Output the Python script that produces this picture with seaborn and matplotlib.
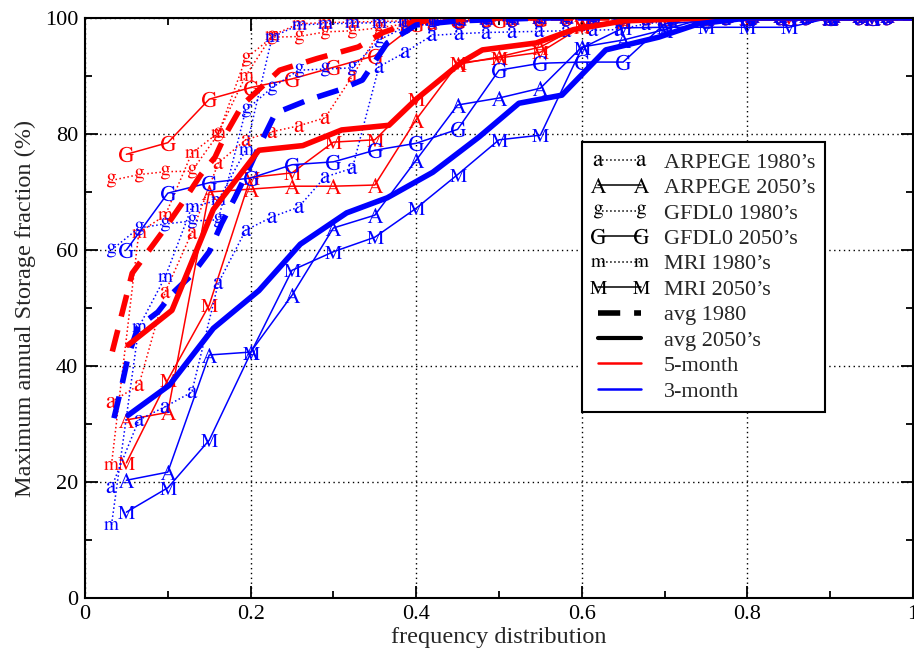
import numpy as np
import pandas as pd
import seaborn as sns
import matplotlib
matplotlib.use("Agg")
import matplotlib.pyplot as plt
from matplotlib.lines import Line2D
from matplotlib.ticker import MultipleLocator, FuncFormatter

# ---------------- data ----------------
X_1980 = [0.032, 0.065, 0.097, 0.129, 0.161, 0.194, 0.226, 0.258, 0.290, 0.323,
          0.355, 0.387, 0.419, 0.452, 0.484, 0.516, 0.548, 0.581, 0.613, 0.645,
          0.677, 0.710, 0.742, 0.774, 0.806, 0.839, 0.871, 0.903, 0.935, 0.968]
X_2050 = [0.05, 0.10, 0.15, 0.20, 0.25, 0.30, 0.35, 0.40, 0.45, 0.50,
          0.55, 0.60, 0.65, 0.70, 0.75, 0.80, 0.85, 0.90, 0.95]

# 5-month (red)
red_a_1980 = [33.8, 36.7, 52.8, 63.0, 75.0, 79.0, 80.4, 81.4, 82.8, 90.0,
              97.5, 98.5, 99.0, 99.3, 99.5, 99.6, 99.7, 99.8, 99.8, 99.9,
              99.9, 100, 100, 100, 100, 100, 100, 100, 100, 100]
red_g_1980 = [72.0, 73.0, 73.5, 73.6, 80.0, 93.0, 96.7, 96.8, 97.6, 97.8,
              98.3, 99.0, 99.3, 99.5, 99.6, 99.7, 99.8, 99.8, 99.9, 100,
              100, 100, 100, 100, 100, 100, 100, 100, 100, 100]
red_m_1980 = [23.0, 63.0, 66.0, 76.7, 80.2, 90.0, 97.0, 99.0, 99.2, 99.3,
              99.4, 99.5, 99.6, 99.7, 99.8, 99.8, 99.9, 100, 100, 100,
              100, 100, 100, 100, 100, 100, 100, 100, 100, 100]
red_A_2050 = [30.7, 32.0, 70.0, 70.5, 71.0, 71.0, 71.2, 82.5, 92.0, 93.3,
              95.0, 98.8, 99.5, 100, 100, 100, 100, 100, 100]
red_G_2050 = [76.5, 78.5, 86.0, 88.0, 89.5, 91.5, 93.5, 99.0, 99.5, 99.7,
              99.8, 100, 100, 100, 100, 100, 100, 100, 100]
red_M_2050 = [23.3, 37.6, 50.5, 72.5, 73.3, 78.6, 79.0, 86.0, 92.2, 93.1,
              94.1, 98.5, 99.5, 100, 100, 100, 100, 100, 100]

# 3-month (blue)
blue_a_1980 = [19.1, 30.7, 33.0, 35.5, 54.3, 63.4, 65.7, 67.4, 72.6, 74.1,
               91.6, 94.1, 97.0, 97.3, 97.5, 97.6, 97.7, 97.8, 97.9, 98.0,
               99.0, 99.5, 99.7, 99.8, 99.9, 100, 100, 100, 100, 100]
blue_g_1980 = [60.0, 63.8, 64.5, 65.0, 65.2, 84.1, 88.0, 91.0, 91.2, 91.4,
               96.2, 98.5, 99.0, 99.3, 99.5, 99.6, 99.7, 99.8, 99.8, 99.9,
               100, 100, 100, 100, 100, 100, 100, 100, 100, 100]
blue_m_1980 = [12.6, 46.7, 55.4, 67.4, 68.6, 77.2, 96.7, 98.8, 99.0, 99.1,
               99.2, 99.3, 99.4, 99.5, 99.6, 99.7, 99.8, 99.8, 99.9, 99.9,
               100, 100, 100, 100, 100, 100, 100, 100, 100, 100]
blue_A_2050 = [20.3, 21.7, 41.9, 42.4, 52.2, 63.8, 66.0, 75.5, 85.0, 86.2,
               87.9, 95.0, 96.2, 98.0, 100, 100, 100, 100, 100]
blue_G_2050 = [60.0, 69.8, 71.6, 72.4, 74.7, 75.2, 77.2, 78.4, 80.8, 91.0,
               92.2, 92.4, 92.4, 99.0, 99.5, 100, 100, 100, 100]
blue_M_2050 = [14.8, 19.0, 27.2, 42.2, 56.5, 59.7, 62.2, 67.2, 73.0, 79.0,
               79.8, 94.8, 98.3, 98.4, 98.4, 98.4, 98.4, 100, 100]

# averages
red_avg1980_x = [0.033, 0.057, 0.093, 0.117, 0.14, 0.157, 0.17, 0.19, 0.235, 0.28, 0.33, 0.36, 0.40, 0.50, 1.0]
red_avg1980_y = [42.5, 56.0, 63.0, 68.0, 73.0, 76.0, 80.0, 85.0, 91.0, 93.0, 95.0, 97.5, 99.5, 100, 100]
blue_avg1980_x = [0.035, 0.045, 0.052, 0.064, 0.088, 0.106, 0.129, 0.15, 0.165, 0.181, 0.196, 0.21,
                  0.23, 0.27, 0.307, 0.335, 0.365, 0.40, 0.45, 0.55, 1.0]
blue_avg1980_y = [31.0, 37.0, 41.6, 46.7, 49.3, 52.6, 55.7, 59.7, 64.6, 69.0, 73.4, 77.8,
                  83.6, 85.9, 87.6, 89.3, 95.7, 98.8, 99.5, 100, 100]
red_avg2050_x = [0.052, 0.105, 0.155, 0.21, 0.263, 0.31, 0.367, 0.40, 0.455, 0.48, 0.545, 0.59, 0.65, 0.75, 1.0]
red_avg2050_y = [43.6, 49.6, 67.0, 77.2, 78.0, 80.7, 81.5, 86.0, 92.4, 94.5, 95.7, 98.0, 99.5, 100, 100]
blue_avg2050_x = [0.052, 0.102, 0.155, 0.21, 0.26, 0.316, 0.365, 0.42, 0.476, 0.524, 0.576, 0.629,
                  0.693, 0.741, 0.80, 1.0]
blue_avg2050_y = [31.5, 36.7, 46.5, 53.0, 61.0, 66.4, 69.0, 73.4, 79.5, 85.3, 86.7, 94.5,
                  96.7, 99.0, 100, 100]

# ---------------- style ----------------
sns.set_style("ticks")
plt.rcParams['font.family'] = ['Liberation Serif', 'DejaVu Serif']
plt.rcParams['mathtext.fontset'] = 'stix'

RED = '#ff0000'
BLUE = '#0000ff'

fig = plt.figure(figsize=(9.14, 6.51), dpi=100)
ax = fig.add_axes([85 / 914, 53 / 651, 828 / 914, 580 / 651])

letter_size = {'a': 8.0, 'g': 10.0, 'm': 10.5, 'A': 11.0, 'G': 11.0, 'M': 12.0}

def draw(x, y, color, letter, ls):
    df = pd.DataFrame({'x': x, 'y': y})
    sns.lineplot(data=df, x='x', y='y', ax=ax, color=color, linestyle=ls,
                 linewidth=1.1, marker=r'$\mathrm{%s}$' % letter,
                 markersize=letter_size[letter], markeredgewidth=0,
                 markerfacecolor=color, markeredgecolor=color, sort=False,
                 estimator=None)

series = [
    (X_1980, red_a_1980, RED, 'a', ':'), (X_1980, red_g_1980, RED, 'g', ':'),
    (X_1980, red_m_1980, RED, 'm', ':'), (X_2050, red_A_2050, RED, 'A', '-'),
    (X_2050, red_G_2050, RED, 'G', '-'), (X_2050, red_M_2050, RED, 'M', '-'),
    (X_1980, blue_a_1980, BLUE, 'a', ':'), (X_1980, blue_g_1980, BLUE, 'g', ':'),
    (X_1980, blue_m_1980, BLUE, 'm', ':'), (X_2050, blue_A_2050, BLUE, 'A', '-'),
    (X_2050, blue_G_2050, BLUE, 'G', '-'), (X_2050, blue_M_2050, BLUE, 'M', '-'),
]
for x, y, c, l, ls in series:
    draw(x, y, c, l, ls)

for x, y, c, ls in [(red_avg1980_x, red_avg1980_y, RED, (0, (4, 2.5))),
                    (blue_avg1980_x, blue_avg1980_y, BLUE, (0, (4, 2.5))),
                    (red_avg2050_x, red_avg2050_y, RED, '-'),
                    (blue_avg2050_x, blue_avg2050_y, BLUE, '-')]:
    df = pd.DataFrame({'x': x, 'y': y})
    sns.lineplot(data=df, x='x', y='y', ax=ax, color=c, linestyle=ls,
                 linewidth=4.0, sort=False, estimator=None)

# ---------------- axes ----------------
ax.set_xlim(0, 1)
ax.set_ylim(0, 100)
ax.xaxis.set_major_locator(MultipleLocator(0.2))
ax.xaxis.set_minor_locator(MultipleLocator(0.1))
ax.yaxis.set_major_locator(MultipleLocator(20))
ax.yaxis.set_minor_locator(MultipleLocator(10))
ax.xaxis.set_major_formatter(FuncFormatter(lambda v, p: '%g' % round(v, 2)))
ax.yaxis.set_major_formatter(FuncFormatter(lambda v, p: '%g' % round(v, 2)))
ax.tick_params(which='both', direction='in', top=True, right=True, colors='black',
               labelsize=16, width=1.3)
ax.tick_params(which='major', length=9, pad=5)
ax.tick_params(which='minor', length=5)
ax.grid(True, which='major', linestyle=(0, (1, 2.5)), color='black', linewidth=1.0)
for s in ax.spines.values():
    s.set_visible(True)
    s.set_color('black')
    s.set_linewidth(1.5)
ax.set_xlabel('frequency distribution', fontsize=17.5, labelpad=2)
ax.set_ylabel('Maximum annual Storage fraction (%)', fontsize=17.5, labelpad=6)

# ---------------- legend ----------------
def mk(letter, ls):
    return Line2D([], [], color='black', linestyle=ls, linewidth=1.1,
                  marker=r'$\mathrm{%s}$' % letter, markersize=letter_size[letter],
                  markeredgewidth=0)

handles = [mk('a', ':'), mk('A', '-'), mk('g', ':'), mk('G', '-'), mk('m', ':'), mk('M', '-'),
           Line2D([], [], color='black', linestyle=(0, (4, 2.5)), linewidth=4),
           Line2D([], [], color='black', linestyle='-', linewidth=3),
           Line2D([], [], color=RED, linestyle='-', linewidth=1.8),
           Line2D([], [], color=BLUE, linestyle='-', linewidth=1.8)]
labels = ["ARPEGE 1980\u2019s", "ARPEGE 2050\u2019s", "GFDL0 1980\u2019s", "GFDL0 2050\u2019s",
          "MRI 1980\u2019s", "MRI 2050\u2019s", "avg 1980", "avg 2050\u2019s", "5-month", "3-month"]
leg = ax.legend(handles, labels, loc='upper left', bbox_to_anchor=(0.6, 0.786),
                borderaxespad=0, numpoints=2, handlelength=2.5, fontsize=16,
                frameon=True, fancybox=False, framealpha=1, edgecolor='black',
                labelspacing=0.22, borderpad=0.45, handletextpad=0.75)
leg.get_frame().set_linewidth(1.5)

fig.savefig('out.png', dpi=100)
